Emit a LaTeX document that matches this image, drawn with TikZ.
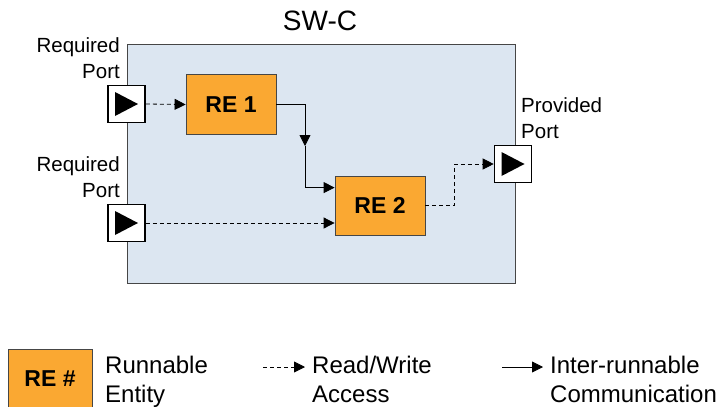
\documentclass[tikz,border=0pt]{standalone}
\usepackage{fontspec}
\setmainfont{Liberation Sans}
\usetikzlibrary{arrows.meta,positioning}
\definecolor{swcblue}{RGB}{220,230,241}
\definecolor{reorange}{RGB}{250,168,50}
\definecolor{edgegray}{RGB}{70,70,70}

\begin{document}
\begin{tikzpicture}[x=1pt,y=-1pt]
\tikzstyle{every node}+=[inner sep=0pt]
\tikzstyle{swc}=[draw=edgegray,line width=1pt,fill=swcblue,minimum width=388pt,minimum height=239pt]
\tikzstyle{re}=[draw=edgegray,line width=0.8pt,fill=reorange,minimum width=90pt,minimum height=60pt,font=\fontsize{23}{27}\selectfont\bfseries]
\tikzstyle{port}=[draw=black,line width=1.6pt,fill=white,minimum size=37pt,
  path picture={\fill[black] (path picture bounding box.center) ++(-11.5pt,12pt) -- ++(23pt,-12pt) -- ++(-23pt,-12pt) -- cycle;}]
\tikzstyle{lbl}=[font=\fontsize{20.5}{25.5}\selectfont]
\tikzstyle{key}=[font=\fontsize{24}{29}\selectfont,align=left,anchor=base west]
\tikzstyle{rw}=[line width=0.8pt,dash pattern=on 4pt off 3pt,-{Triangle[length=11pt,width=11pt]}]
\tikzstyle{ir}=[line width=0.8pt,-{Triangle[length=11pt,width=11pt]}]
\useasboundingbox (0,0) rectangle (726,407);
% component
\node[swc] (swc) at (321,163.5) {};
\node[font=\fontsize{28}{32}\selectfont,anchor=base] (title) at (320,30) {SW-C};
% runnables
\node[re] (re1) at (231,104.5) {RE 1};
\node[re,minimum height=59pt] (re2) at (380,205.5) {RE 2};
% ports
\node[port] (rp1) at (126.5,104) {};
\node[port] (rp2) at (126.5,223) {};
\node[port] (pp) at (513,164) {};
\node[lbl,align=right,anchor=base east] (rp1lbl) at (120,78) {Required\\Port};
\node[lbl,align=right,anchor=base east] (rp2lbl) at (120,197) {Required\\Port};
\node[lbl,align=left,anchor=base west] (pplbl) at (521,138.3) {Provided\\Port};
% connections
\coordinate (mid) at (305,146);
\draw[rw] (rp1.east) -- (re1.west);
\draw[ir] (re1.east) -| (mid);
\draw[ir] (mid) |- ([yshift=-12pt]re2.north west);
\draw[rw] (rp2.east) -- (rp2.east -| re2.west);
\draw[rw] (re2.east) -- ++(29,0) |- (pp.west);
% legend
\node[re,minimum width=84pt,minimum height=59pt] (rekey) at (50,378.5) {RE \#};
\node[key] (rekeylbl) at (105,402) {Runnable\\Entity};
\coordinate (rwa) at (263,367);
\coordinate (rwb) at (305,367);
\draw[rw] (rwa) -- (rwb);
\node[key] (rwlbl) at (312,402) {Read/Write\\Access};
\coordinate (ira) at (502,367);
\coordinate (irb) at (543,367);
\draw[ir] (ira) -- (irb);
\node[key] (irlbl) at (550,402) {Inter-runnable\\Communication};
\end{tikzpicture}
\end{document}
